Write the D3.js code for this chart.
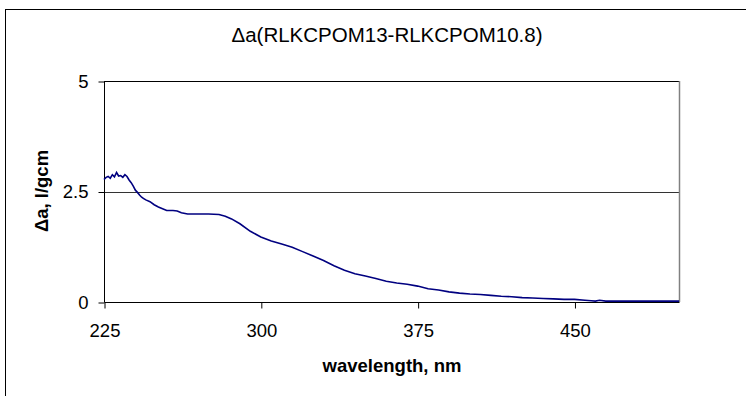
<!DOCTYPE html>
<html>
<head>
<meta charset="utf-8">
<script src="https://cdn.jsdelivr.net/npm/d3@7"></script>
<style>
  body { margin: 0; background: #fff; }
  svg { display: block; font-family: "Liberation Sans", Arial, sans-serif; }
</style>
</head>
<body>
<svg width="746" height="396"></svg>
<script>
const wavelength = [225, 226, 227, 228, 229, 230, 231, 232, 233, 234, 235, 236, 237, 238, 239, 240,
  241, 242, 243, 244, 245, 247, 249, 251, 253, 255, 258, 260, 262, 265, 270, 275, 280, 283, 286,
  290, 295, 300, 305, 310, 315, 320, 325, 330, 335, 340, 345, 350, 355, 360, 365, 370, 375, 380,
  385, 390, 395, 400, 405, 410, 415, 420, 425, 430, 435, 440, 445, 450, 455, 458, 460, 462, 465,
  470, 480, 490, 500];
const deltaA = [2.77, 2.82, 2.84, 2.80, 2.88, 2.83, 2.93, 2.85, 2.86, 2.82, 2.88, 2.84, 2.76, 2.70,
  2.62, 2.53, 2.48, 2.42, 2.37, 2.34, 2.31, 2.27, 2.20, 2.15, 2.11, 2.07, 2.07, 2.06, 2.02, 1.99,
  1.99, 1.99, 1.98, 1.94, 1.88, 1.77, 1.60, 1.47, 1.38, 1.31, 1.24, 1.14, 1.04, 0.94, 0.82, 0.72,
  0.64, 0.59, 0.53, 0.47, 0.43, 0.40, 0.36, 0.30, 0.27, 0.23, 0.20, 0.18, 0.17, 0.15, 0.13, 0.12,
  0.10, 0.09, 0.08, 0.07, 0.06, 0.06, 0.04, 0.03, 0.02, 0.04, 0.02, 0.02, 0.02, 0.02, 0.02];
const xTicks = [225, 300, 375, 450];
const yTicks = [0, 2.5, 5];

const titleText = "\u0394a(RLKCPOM13-RLKCPOM10.8)";
const xTitle = "wavelength, nm";
const yTitle = "\u0394a, l/gcm";

const svg = d3.select("svg");
const plot = { left: 104, right: 679, top: 81, bottom: 302 };

// chart area frame (runs off the right and bottom of the picture)
svg.append("rect")
  .attr("x", 5.5).attr("y", 9.5)
  .attr("width", 800).attr("height", 420)
  .attr("fill", "#fff").attr("stroke", "#000");

const x = d3.scaleLinear().domain([225, 500]).range([plot.left, plot.right]);
const y = d3.scaleLinear().domain([0, 5]).range([plot.bottom, plot.top]);

// gridlines
svg.append("g")
  .selectAll("line")
  .data(yTicks.filter(d => d > 0))
  .enter()
  .append("line")
  .attr("x1", plot.left).attr("x2", plot.right)
  .attr("y1", d => Math.round(y(d)) + 0.5).attr("y2", d => Math.round(y(d)) + 0.5)
  .attr("stroke", d => d === 5 ? "#000" : "#333");

// plot area right edge
svg.append("line")
  .attr("x1", plot.right + 0.5).attr("x2", plot.right + 0.5)
  .attr("y1", plot.top).attr("y2", plot.bottom)
  .attr("stroke", "#808080").attr("stroke-width", 1.5);

// axes
const yAxis = svg.append("g")
  .attr("transform", `translate(${plot.left + 0.5},0.5)`)
  .call(d3.axisLeft(y).tickValues(yTicks).tickSize(6).tickPadding(10)
    .tickFormat(d => d === 2.5 ? "2.5" : d3.format("d")(d)));

const xAxis = svg.append("g")
  .attr("transform", `translate(0.5,${plot.bottom + 0.5})`)
  .call(d3.axisBottom(x).tickValues(xTicks).tickSize(6).tickPadding(15)
    .tickFormat(d3.format("d")));

[yAxis, xAxis].forEach(g => {
  g.selectAll(".tick line").attr("stroke", "#000");
  g.selectAll(".tick text")
    .attr("fill", "#000")
    .style("font-size", "18.5px")
    .style("font-family", "'Liberation Sans', Arial, sans-serif");
});
yAxis.select(".domain").attr("stroke", "#000").attr("d", `M0,${plot.top}V${plot.bottom}`);
xAxis.select(".domain").attr("stroke", "#000").attr("d", `M${plot.left},0H${plot.right}`);

// data line
const line = d3.line()
  .x((d, i) => x(wavelength[i]))
  .y(d => y(d));

svg.append("path")
  .datum(deltaA)
  .attr("d", line)
  .attr("fill", "none")
  .attr("stroke", "#000080")
  .attr("stroke-width", 1.6);

// titles
svg.append("text")
  .attr("x", 387).attr("y", 42)
  .attr("text-anchor", "middle")
  .style("font-size", "20.5px")
  .text(titleText);

svg.append("text")
  .attr("x", 392).attr("y", 372)
  .attr("text-anchor", "middle")
  .style("font-size", "18.5px")
  .style("font-weight", "bold")
  .text(xTitle);

svg.append("text")
  .attr("transform", "translate(48,191) rotate(-90)")
  .attr("text-anchor", "middle")
  .style("font-size", "18.5px")
  .style("font-weight", "bold")
  .text(yTitle);
</script>
</body>
</html>
